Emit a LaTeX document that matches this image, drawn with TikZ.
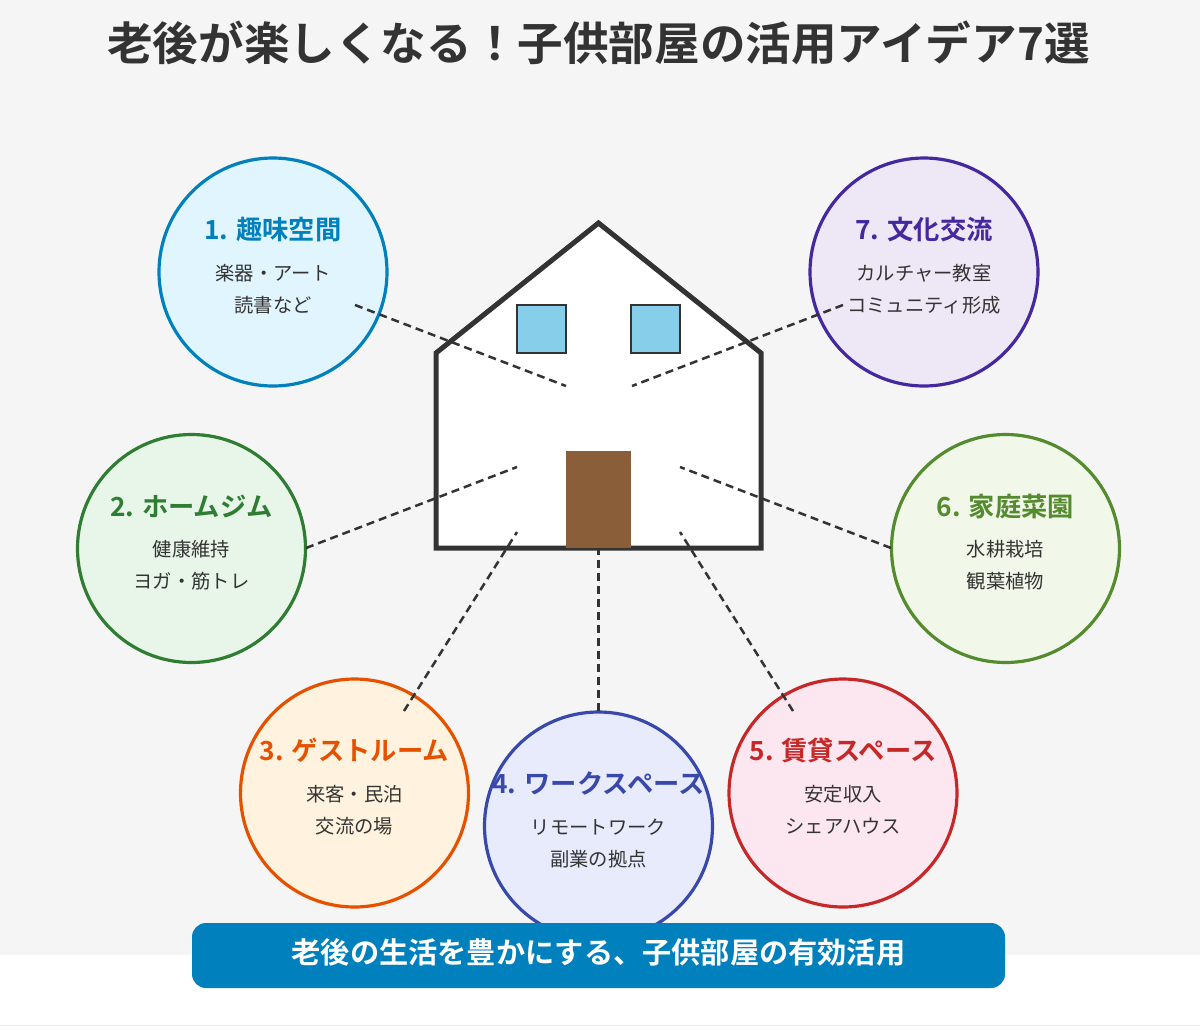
\documentclass[tikz,border=0pt]{standalone}
\usepackage{fontspec}
\setmainfont{Noto Sans CJK JP}[BoldFont={* Bold}]
\definecolor{bggray}{HTML}{F5F5F5}
\definecolor{ink}{HTML}{333333}
\definecolor{sky}{HTML}{87CEEB}
\definecolor{doorbrown}{HTML}{8B5E3A}
\definecolor{banner}{HTML}{0080BC}
\definecolor{sA}{HTML}{0080BC}\definecolor{fA}{HTML}{E1F5FE}
\definecolor{sB}{HTML}{2E7D32}\definecolor{fB}{HTML}{E8F5E9}
\definecolor{sC}{HTML}{E65100}\definecolor{fC}{HTML}{FFF3E0}
\definecolor{sD}{HTML}{3949AB}\definecolor{fD}{HTML}{E8EBFC}
\definecolor{sE}{HTML}{C62828}\definecolor{fE}{HTML}{FCE6EF}
\definecolor{sF}{HTML}{558B2F}\definecolor{fF}{HTML}{F1F8E9}
\definecolor{sG}{HTML}{4527A0}\definecolor{fG}{HTML}{EDE7F6}
\tikzset{
  bubble/.style={circle,draw=#1,line width=3.2pt,minimum size=228pt,inner sep=0pt,outer sep=0pt},
  headtext/.style={anchor=base,text=#1,inner sep=0pt,font=\fontsize{26.3}{27}\selectfont\bfseries},
  bodytext/.style={anchor=base,text=ink,inner sep=0pt,font=\fontsize{19.3}{20}\selectfont},
  link/.style={draw=ink,line width=2.5pt,dash pattern=on 8pt off 5pt},
}
% \bub{name}{cx}{cy}{colour letter}{head}{line 1}{line 2}
\newcommand{\bub}[7]{%
  \node[bubble=s#4,fill=f#4] (#1) at (#2,#3) {};
  \node[headtext=s#4] (#1h) at (#2,#3-32.5) {#5};
  \node[bodytext] (#1a) at (#2,#3+8) {#6};
  \node[bodytext] (#1b) at (#2,#3+40) {#7};
}
\begin{document}
\begin{tikzpicture}[x=1pt,y=-1pt]
\useasboundingbox (0,0) rectangle (1200,1029);
\fill[white] (0,0) rectangle (1200,1029);
\fill[bggray] (0,0) rectangle (1200,955);
\draw[black!8,line width=1pt] (0,1025) -- (1200,1025);
\node[anchor=base,text=ink,inner sep=0pt,font=\fontsize{45.6}{46}\selectfont\bfseries] (title) at (598.5,60.5) {老後が楽しくなる\symbol{"FF01}子供部屋の活用アイデア7選};
% house
\draw[ink,fill=white,line width=5pt,line join=miter] (436,353) -- (598.5,223) -- (761,353) -- (761,548) -- (436,548) -- cycle;
\node[draw=ink,fill=sky,line width=1.5pt,minimum width=49pt,minimum height=48pt,inner sep=0pt] (winL) at (541.5,329) {};
\node[draw=ink,fill=sky,line width=1.5pt,minimum width=49pt,minimum height=48pt,inner sep=0pt] (winR) at (655.5,329) {};
\node[fill=doorbrown,minimum width=65pt,minimum height=97.5pt,inner sep=0pt] (door) at (598.5,499.5) {};
% bubbles
\bub{c1}{273}{272}{A}{1. 趣味空間}{楽器・アート}{読書など}
\bub{c2}{191.5}{548.5}{B}{2. ホームジム}{健康維持}{ヨガ・筋トレ}
\bub{c3}{354.5}{793}{C}{3. ゲストルーム}{来客・民泊}{交流の場}
\bub{c4}{598.5}{826}{D}{4. ワークスペース}{リモートワーク}{副業の拠点}
\bub{c5}{843}{793}{E}{5. 賃貸スペース}{安定収入}{シェアハウス}
\bub{c6}{1005.5}{548.5}{F}{6. 家庭菜園}{水耕栽培}{観葉植物}
\bub{c7}{924}{272}{G}{7. 文化交流}{カルチャー教室}{コミュニティ形成}
% connectors
\coordinate (p1) at (355,305); \coordinate (q1) at (566,386);
\coordinate (p2) at (306,548); \coordinate (q2) at (517,467);
\coordinate (p3) at (404,711); \coordinate (q3) at (517,532);
\coordinate (p4) at (598.5,711); \coordinate (q4) at (598.5,548);
\coordinate (p5) at (793,711); \coordinate (q5) at (680,532);
\coordinate (p6) at (891,548); \coordinate (q6) at (680,467);
\coordinate (p7) at (843,305); \coordinate (q7) at (632,386);
\foreach \i in {1,...,7} \draw[link] (p\i) -- (q\i);
% banner
\node[fill=banner,rounded corners=14pt,minimum width=813pt,minimum height=65pt,inner sep=0pt] (band) at (598.5,955.5) {};
\node[anchor=base,text=white,inner sep=0pt,font=\fontsize{29.2}{30}\selectfont\bfseries] (bandtext) at (598.5,963) {老後の生活を豊かにする、子供部屋の有効活用};
\end{tikzpicture}
\end{document}
